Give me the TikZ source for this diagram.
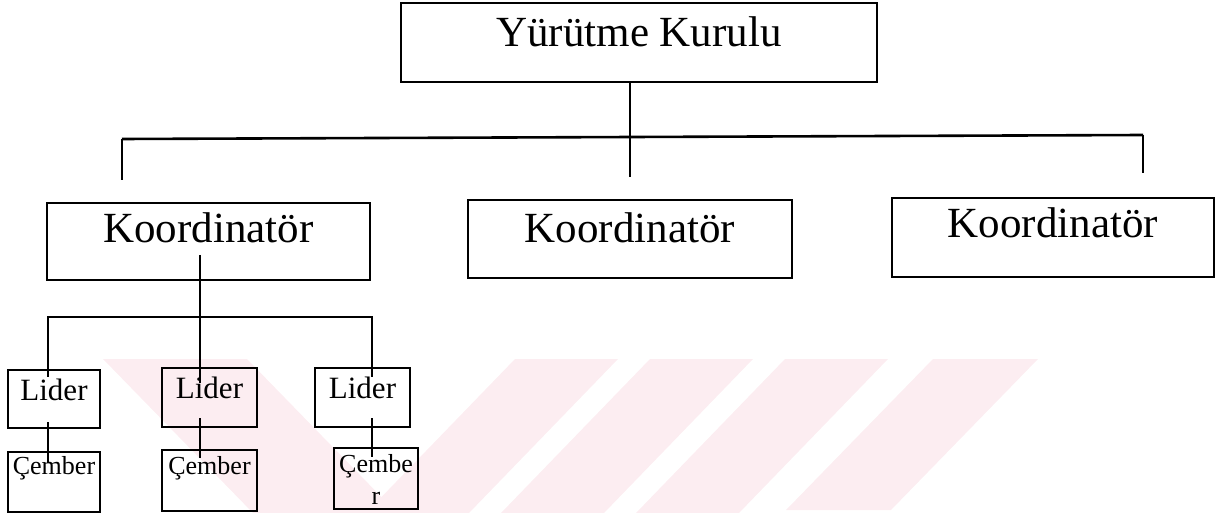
\documentclass[tikz,border=0pt]{standalone}
\usepackage{fontspec}
\setmainfont{Liberation Serif}
\definecolor{wm}{RGB}{252,237,241}
\begin{document}
\begin{tikzpicture}[x=1pt,y=-1pt,
  box/.style={draw, line width=2.8pt, inner sep=0pt, anchor=center, fill=none},
  conn/.style={line width=2.6pt},
  bigtxt/.style={font=\fontsize{43}{50}\selectfont},
  lidtxt/.style={font=\fontsize{31}{36}\selectfont},
  cemtxt/.style={font=\fontsize{26}{32}\selectfont}]
\useasboundingbox (0,0) rectangle (1221,513);
% watermark
\fill[wm] (103,359) -- (247,359) -- (397,513) -- (253,513) -- cycle;
\fill[wm] (515,359) -- (618,359) -- (469,513) -- (366,513) -- cycle;
\fill[wm] (650,359) -- (753,359) -- (604,513) -- (501,513) -- cycle;
\fill[wm] (785,359) -- (888,359) -- (739,513) -- (636,513) -- cycle;
\fill[wm] (933,359) -- (1038,359) -- (891,510) -- (786,510) -- cycle;
% boxes
\node[box, bigtxt, minimum width=476pt, text height=44pt, text depth=35pt] (yk) at (639,42.5) {Yürütme Kurulu};
\node[box, bigtxt, minimum width=323pt, text height=40pt, text depth=37pt] (k1) at (208.5,241.5) {Koordinatör};
\node[box, bigtxt, minimum width=324pt, text height=43pt, text depth=35pt] (k2) at (630,239) {Koordinatör};
\node[box, bigtxt, minimum width=322pt, text height=40pt, text depth=39pt] (k3) at (1053,237.5) {Koordinatör};
\node[box, lidtxt, minimum width=92pt, text height=30pt, text depth=28pt] (l1) at (54,399) {Lider};
\node[box, lidtxt, minimum width=95pt, text height=30pt, text depth=29pt] (l2) at (209.5,397.5) {Lider};
\node[box, lidtxt, minimum width=95pt, text height=30pt, text depth=29pt] (l3) at (362.5,397.5) {Lider};
\node[box, cemtxt, minimum width=92pt, text height=22pt, text depth=38pt] (c1) at (54,482) {Çember};
\node[box, cemtxt, minimum width=95pt, text height=24pt, text depth=37pt] (c2) at (209.5,480.5) {Çember};
\node[box, cemtxt, minimum width=84pt, text height=56pt, text depth=5pt, align=center] (c3) at (376,478.5) {Çembe\\r};
% connector coordinates
\coordinate (t1) at (630,177);
\coordinate (bl) at (122,139);
\coordinate (br) at (1143,135);
\coordinate (bl2) at (122,180);
\coordinate (br2) at (1143,173);
\coordinate (m1) at (200,255);
\coordinate (m2) at (200,383);
\coordinate (sl) at (47,317);
\coordinate (sr) at (373,317);
\coordinate (d1) at (48,377);
\coordinate (d3) at (372,377);
\coordinate (a1) at (48,422);  \coordinate (b1) at (48,463);
\coordinate (a2) at (200,418); \coordinate (b2) at (200,458);
\coordinate (a3) at (372,418); \coordinate (b3) at (372,457);
% connectors
\draw[conn] (yk.south -| t1) -- (t1);
\draw[conn] (bl) -- (br);
\draw[conn] (bl) -- (bl2);
\draw[conn] (br) -- (br2);
\draw[conn] (m1) -- (m2);
\draw[conn] (sl) -- (sr);
\draw[conn] (sl -| d1) -- (d1);
\draw[conn] (sr -| d3) -- (d3);
\draw[conn] (a1) -- (b1);
\draw[conn] (a2) -- (b2);
\draw[conn] (a3) -- (b3);
\end{tikzpicture}
\end{document}
